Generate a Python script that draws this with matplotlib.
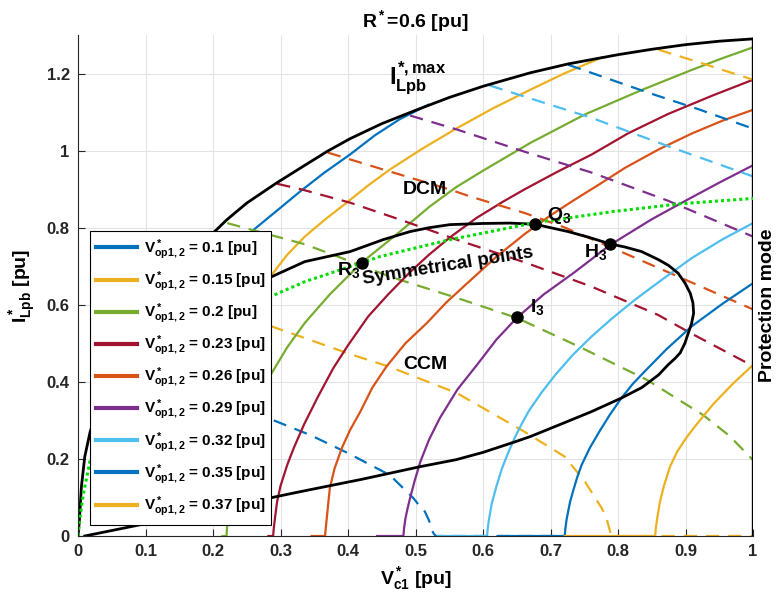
import matplotlib.pyplot as plt
from matplotlib.lines import Line2D

plt.rcParams['font.family'] = ['Liberation Sans', 'DejaVu Sans']
plt.rcParams['font.weight'] = 'bold'
plt.rcParams['axes.titleweight'] = 'bold'
plt.rcParams['axes.labelweight'] = 'bold'
plt.rcParams['mathtext.fontset'] = 'custom'
plt.rcParams['mathtext.rm'] = 'Liberation Sans:bold'
plt.rcParams['mathtext.it'] = 'Liberation Sans:bold'
plt.rcParams['mathtext.bf'] = 'Liberation Sans:bold'

# V*op1,2 values and MATLAB colours
v_op = [0.1, 0.15, 0.2, 0.23, 0.26, 0.29, 0.32, 0.35, 0.37]
colors = ['#0072BD', '#EDB120', '#77AC30', '#A2142F', '#D95319',
          '#7E2F8E', '#4DBEEE', '#0072BD', '#EDB120']

# solid curves, one per V*op
solid_x = [
    [0.06, 0.10, 0.15, 0.20, 0.25, 0.30, 0.329, 0.365, 0.403, 0.44, 0.477, 0.519],
    [0.15, 0.20, 0.25, 0.287, 0.31, 0.336, 0.365, 0.398, 0.43, 0.462, 0.51, 0.561, 0.615, 0.670, 0.72, 0.776],
    [0.214, 0.22, 0.221, 0.223, 0.227, 0.235, 0.25, 0.27, 0.287, 0.31, 0.336, 0.373, 0.42, 0.477,
     0.521, 0.56, 0.60, 0.67, 0.751, 0.836, 0.910, 0.955, 1.0],
    [0.282, 0.289, 0.29, 0.292, 0.295, 0.30, 0.31, 0.32, 0.335, 0.355, 0.378, 0.40, 0.43, 0.46,
     0.492, 0.52, 0.551, 0.59, 0.63, 0.662, 0.71, 0.761, 0.815, 0.874, 0.94, 1.0],
    [0.346, 0.366, 0.367, 0.369, 0.373, 0.38, 0.391, 0.403, 0.418, 0.436, 0.457, 0.485, 0.517,
     0.545, 0.576, 0.62, 0.662, 0.70, 0.736, 0.77, 0.81, 0.86, 0.91, 0.955, 1.0],
    [0.443, 0.482, 0.483, 0.485, 0.488, 0.492, 0.499, 0.507, 0.52, 0.536, 0.562, 0.591, 0.62,
     0.65, 0.69, 0.736, 0.788, 0.85, 0.9, 0.95, 1.0],
    [0.533, 0.606, 0.607, 0.609, 0.613, 0.62, 0.628, 0.637, 0.647, 0.657, 0.668, 0.687, 0.707,
     0.733, 0.761, 0.79, 0.825, 0.865, 0.909, 0.955, 1.0],
    [0.625, 0.721, 0.722, 0.724, 0.729, 0.734, 0.74, 0.746, 0.758, 0.772, 0.788, 0.805, 0.822,
     0.84, 0.872, 0.909, 0.955, 1.0],
    [0.721, 0.855, 0.856, 0.858, 0.862, 0.868, 0.877, 0.888, 0.90, 0.912, 0.924, 0.941, 0.97, 1.0],
]
solid_y = [
    [0.10, 0.35, 0.55, 0.67, 0.78, 0.852, 0.894, 0.943, 0.99, 1.04, 1.082, 1.119],
    [0.20, 0.45, 0.59, 0.678, 0.73, 0.777, 0.82, 0.865, 0.91, 0.951, 1.005, 1.058, 1.11, 1.158, 1.2, 1.242],
    [0, 0, 0.03, 0.07, 0.13, 0.20, 0.28, 0.36, 0.423, 0.49, 0.553, 0.627, 0.709, 0.79,
     0.855, 0.905, 0.948, 1.02, 1.094, 1.158, 1.210, 1.24, 1.268],
    [0, 0, 0.02, 0.05, 0.09, 0.13, 0.185, 0.23, 0.29, 0.36, 0.435, 0.495, 0.57, 0.628,
     0.685, 0.73, 0.775, 0.825, 0.868, 0.9, 0.945, 0.99, 1.045, 1.095, 1.143, 1.184],
    [0, 0, 0.02, 0.055, 0.124, 0.175, 0.229, 0.275, 0.322, 0.385, 0.44, 0.5, 0.553,
     0.605, 0.655, 0.725, 0.784, 0.832, 0.873, 0.91, 0.955, 1.003, 1.045, 1.078, 1.106],
    [0, 0, 0.02, 0.045, 0.07, 0.099, 0.145, 0.192, 0.25, 0.306, 0.38, 0.444, 0.51,
     0.566, 0.627, 0.685, 0.755, 0.822, 0.870, 0.917, 0.962],
    [0, 0, 0.02, 0.045, 0.085, 0.13, 0.175, 0.215, 0.255, 0.29, 0.325, 0.373, 0.418,
     0.47, 0.518, 0.563, 0.613, 0.665, 0.721, 0.77, 0.812],
    [0, 0, 0.02, 0.045, 0.089, 0.12, 0.155, 0.184, 0.228, 0.27, 0.315, 0.358, 0.395,
     0.428, 0.485, 0.544, 0.603, 0.656],
    [0, 0, 0.02, 0.045, 0.088, 0.13, 0.18, 0.22, 0.252, 0.28, 0.306, 0.342, 0.395, 0.444],
]

# dashed curves, same colour order
dash_x = [
    [0.29, 0.344, 0.40, 0.462, 0.497, 0.505, 0.514, 0.52, 0.524, 0.527, 0.53, 0.72],
    [0.285, 0.329, 0.403, 0.46, 0.561, 0.662, 0.721, 0.751, 0.776, 0.783, 0.787, 0.79, 1.0],
    [0.221, 0.336, 0.40, 0.462, 0.561, 0.65, 0.744, 0.843, 0.926, 0.965, 1.0],
    [0.295, 0.332, 0.403, 0.477, 0.561, 0.662, 0.761, 0.859, 0.907, 1.0],
    [0.370, 0.452, 0.551, 0.581, 0.662, 0.719, 0.791, 0.875, 1.0],
    [0.492, 0.561, 0.662, 0.761, 0.874, 1.0],
    [0.610, 0.662, 0.761, 0.875, 1.0],
    [0.726, 0.842, 0.92, 1.0],
    [0.860, 0.931, 1.0],
]
dash_y = [
    [0.30, 0.262, 0.215, 0.158, 0.098, 0.08, 0.063, 0.04, 0.016, 0.006, 0.0, 0.0],
    [0.545, 0.518, 0.472, 0.440, 0.371, 0.270, 0.206, 0.141, 0.072, 0.045, 0.02, 0.0, 0.0],
    [0.812, 0.757, 0.715, 0.673, 0.618, 0.566, 0.490, 0.405, 0.314, 0.26, 0.197],
    [0.914, 0.899, 0.865, 0.821, 0.769, 0.710, 0.647, 0.574, 0.527, 0.441],
    [0.995, 0.951, 0.899, 0.881, 0.838, 0.802, 0.748, 0.684, 0.588],
    [1.091, 1.055, 0.997, 0.943, 0.870, 0.777],
    [1.169, 1.140, 1.085, 1.011, 0.933],
    [1.223, 1.152, 1.107, 1.057],
    [1.262, 1.223, 1.184],
]

# I*Lpb,max envelope
env_x = [0, 0.002, 0.005, 0.01, 0.018, 0.05, 0.1, 0.15, 0.193, 0.22, 0.25, 0.294, 0.336,
         0.37, 0.403, 0.45, 0.502, 0.55, 0.6, 0.67, 0.726, 0.8, 0.85, 0.9, 0.95, 1.0]
env_y = [0, 0.04, 0.128, 0.206, 0.271, 0.42, 0.57, 0.69, 0.774, 0.82, 0.864, 0.916, 0.962,
         0.999, 1.031, 1.07, 1.106, 1.138, 1.167, 1.202, 1.225, 1.249, 1.263, 1.275, 1.284, 1.29]

# DCM / CCM boundary
loop_x = [0.01, 0.1, 0.2, 0.329, 0.42, 0.507, 0.56, 0.6, 0.645, 0.67, 0.715, 0.761, 0.805,
          0.835, 0.86, 0.874, 0.884, 0.892, 0.899, 0.904, 0.909, 0.912, 0.911, 0.907, 0.899,
          0.889, 0.875, 0.86, 0.835, 0.81, 0.788, 0.757, 0.726, 0.677, 0.64, 0.6, 0.551,
          0.52, 0.492, 0.452, 0.403, 0.336, 0.282, 0.2, 0.1, 0.02]
loop_y = [0, 0.032, 0.068, 0.115, 0.147, 0.18, 0.198, 0.217, 0.243, 0.258, 0.29, 0.323, 0.358,
          0.385, 0.418, 0.444, 0.46, 0.475, 0.5, 0.526, 0.552, 0.578, 0.605, 0.630, 0.657,
          0.682, 0.702, 0.717, 0.738, 0.75, 0.758, 0.775, 0.79, 0.809, 0.812, 0.811, 0.808,
          0.8, 0.79, 0.769, 0.738, 0.712, 0.669, 0.62, 0.50, 0.28]

# symmetrical points
sym_x = [0, 0.003, 0.008, 0.018, 0.05, 0.1, 0.15, 0.2, 0.24, 0.281, 0.336, 0.42,
         0.447, 0.551, 0.677, 0.793, 0.892, 1.0]
sym_y = [0, 0.05, 0.11, 0.197, 0.31, 0.40, 0.47, 0.53, 0.58, 0.618, 0.66, 0.709,
         0.725, 0.769, 0.813, 0.842, 0.862, 0.876]

pt_x = [0.42, 0.677, 0.788, 0.65]
pt_y = [0.709, 0.81, 0.758, 0.569]

fig = plt.figure(figsize=(7.78, 6.06), dpi=100)
ax = fig.add_axes([0.1003, 0.1155, 0.8676, 0.8267])

handles = []
for i in range(len(v_op)):
    ax.plot(solid_x[i], solid_y[i], color=colors[i], lw=1.6)
    ax.plot(dash_x[i], dash_y[i], color=colors[i], lw=1.6, dashes=(6, 4))
    handles.append(Line2D([], [], color=colors[i], lw=3))

ax.plot(env_x, env_y, color='black', lw=2)
ax.plot(loop_x, loop_y, color='black', lw=2)
ax.plot([1, 1], [0, 1.29], color='black', lw=2.4)
ax.plot(sym_x, sym_y, color='#00dd00', lw=2.2, linestyle=(0, (1, 1)))
ax.plot(pt_x, pt_y, 'o', color='black', ms=8, linestyle='none')

ax.text(0.418, 0.678, r'R$_3$', fontsize=14, ha='right', va='baseline')
ax.text(0.695, 0.821, r'Q$_3$', fontsize=14, ha='left', va='baseline')
ax.text(0.750, 0.725, r'H$_3$', fontsize=14, ha='left', va='baseline')
ax.text(0.669, 0.582, r'I$_3$', fontsize=14, ha='left', va='baseline')
ax.text(0.422, 0.655, 'Symmetrical points', fontsize=13.5, rotation=9,
        rotation_mode='anchor', ha='left', va='baseline')
ax.text(0.514, 0.900, 'DCM', fontsize=14, ha='center', va='center')
ax.text(0.514, 0.445, 'CCM', fontsize=14, ha='center', va='center')
ax.text(0.460, 1.19, r'$I^{*,max}_{Lpb}$', fontsize=17, ha='left', va='center')
ax.text(1.022, 0.60, 'Protection mode', fontsize=14, rotation=90,
        ha='center', va='center', clip_on=False)

ax.set_xlim(0, 1)
ax.set_ylim(0, 1.3)
ax.set_xticks([0, 0.1, 0.2, 0.3, 0.4, 0.5, 0.6, 0.7, 0.8, 0.9, 1])
ax.set_xticklabels(['0', '0.1', '0.2', '0.3', '0.4', '0.5', '0.6', '0.7', '0.8', '0.9', '1'],
                   fontweight='bold')
ax.set_yticks([0, 0.2, 0.4, 0.6, 0.8, 1, 1.2])
ax.set_yticklabels(['0', '0.2', '0.4', '0.6', '0.8', '1', '1.2'], fontweight='bold')
ax.tick_params(direction='in', length=5, width=0.8, labelsize=12, colors='#262626', pad=6)
ax.grid(True, color='#e3e3e3', lw=0.8)
ax.set_axisbelow(True)
for s in ['top', 'right']:
    ax.spines[s].set_visible(False)
for s in ['left', 'bottom']:
    ax.spines[s].set_color('#262626')
    ax.spines[s].set_linewidth(0.8)

ax.set_title(r'R$^*$=0.6 [pu]', fontsize=14, fontweight='bold', pad=6)
ax.set_xlabel(r'V$^*_{c1}$ [pu]', fontsize=14, fontweight='bold', labelpad=4)
ax.set_ylabel(r'I$^*_{Lpb}$ [pu]', fontsize=14, fontweight='bold', labelpad=6)

labels = [r'V$^*_{op1,2}$ = ' + str(v) + ' [pu]' for v in v_op]
leg = ax.legend(handles, labels, loc='lower left', bbox_to_anchor=(0.0178, 0.022),
                borderaxespad=0, fontsize=11, handlelength=2.7, handletextpad=0.4,
                labelspacing=0.5, borderpad=0.4, fancybox=False, framealpha=1,
                edgecolor='black', prop={'weight': 'bold', 'size': 11})
leg.get_frame().set_linewidth(0.8)

fig.savefig('out.png', dpi=100)
